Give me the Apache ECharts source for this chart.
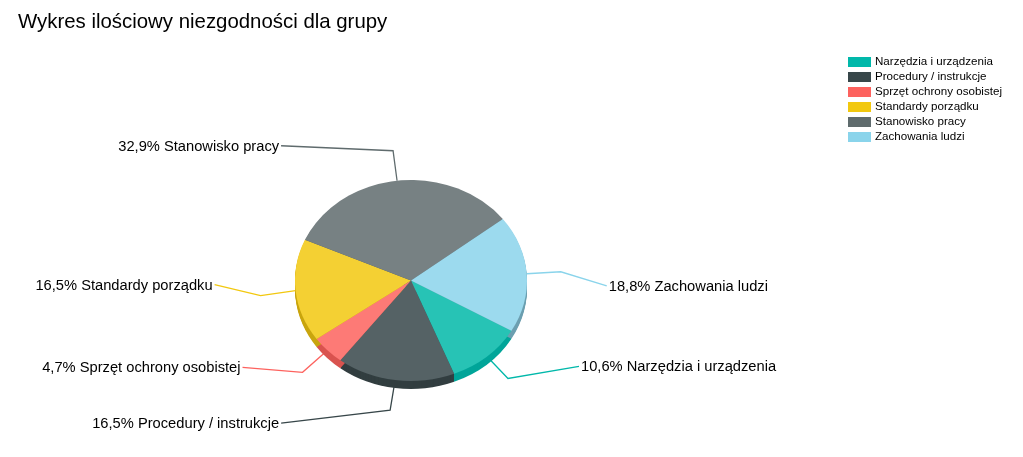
<!DOCTYPE html>
<html><head><meta charset="utf-8">
<style>html,body{margin:0;padding:0;background:#fff}#c{width:1023px;height:457px}</style>
<script src="https://cdn.jsdelivr.net/npm/echarts@6/dist/echarts.min.js"></script>
</head><body><div id="c"></div>
<script>
const categories = ['Narzędzia i urządzenia','Procedury / instrukcje','Sprzęt ochrony osobistej','Standardy porządku','Stanowisko pracy','Zachowania ludzi'];
const shares = [10.6,16.5,4.7,16.5,32.9,18.8];

const baseColors = ['#01B8AA','#374649','#FD625E','#F2C80F','#5F6B6D','#8AD4EB'];
const topColors  = ['#27C3B5','#556265','#FD7A76','#F4D033','#778183','#9CDAEE'];
const sideColors = ['#00A599','#323E40','#D9534F','#C9A50E','#4F595B','#6C9FB0'];
// leader line: offsets from the slice's edge point to the elbow and to the line end
const elbowOffsets = [[21,22],[-5,30],[-25,22],[-35,5],[-4,-30],[34,-2]];
const endOffsets   = [[92,10],[-114,43],[-85,17],[-81,-6],[-116,-35],[80,12]];

const CX = 411, CY = 280.5, RX = 116, RY = 100.5, DEPTH = 8;
const START = 30 * Math.PI / 180;
const total = shares.reduce((a,b)=>a+b,0);
const fmt = v => v.toFixed(1).replace('.',',') + '%';

function render(i){
  return function(params, api){
    const v = api.value(0);
    let before = 0;
    for (let k=0;k<i;k++) before += shares[k];
    const a0 = START + before/total*2*Math.PI;
    const a1 = a0 + v/total*2*Math.PI;
    const mid = (a0+a1)/2;
    const children = [];
    const sector = (dy,fill,z2)=>({type:'sector',x:CX,y:CY+dy,scaleX:1,scaleY:RY/RX,z2,silent:true,
      shape:{cx:0,cy:0,r:RX,r0:0,startAngle:a0,endAngle:a1,clockwise:true},
      style:{fill,stroke:null}});
    for (let d=DEPTH;d>=1;d--) children.push(sector(d,sideColors[i],1));
    children.push(sector(0,topColors[i],5));
    const ex = CX+RX*Math.cos(mid), ey = CY+RY*Math.sin(mid);
    const pe = [ex+elbowOffsets[i][0], ey+elbowOffsets[i][1]];
    const pl = [ex+endOffsets[i][0], ey+endOffsets[i][1]];
    children.push({type:'polyline',z2:0,silent:true,
      shape:{points:[[ex,ey],pe,pl]},
      style:{fill:null,stroke:baseColors[i],lineWidth:1.3}});
    const left = pl[0] > CX;
    children.push({type:'text',z2:6,silent:true,x:pl[0]+(left?2:-2),y:pl[1]+0.8,
      style:{text:fmt(v)+' '+categories[i],fill:'#000',
        font:'14.7px "Liberation Sans", Arial, sans-serif',
        align:left?'left':'right',verticalAlign:'middle'}});
    return {type:'group',children};
  };
}

const option = {
  animation:false,
  backgroundColor:'#fff',
  title:{text:'Wykres ilościowy niezgodności dla grupy',left:13,top:7,
    textStyle:{fontFamily:'"Liberation Sans", Arial, sans-serif',fontSize:20.4,fontWeight:'normal',color:'#000'}},
  legend:{orient:'vertical',left:843,top:51,itemWidth:23,itemHeight:10,itemGap:3,
    icon:'rect',selectedMode:false,data:categories,
    textStyle:{fontFamily:'"Liberation Sans", Arial, sans-serif',fontSize:11.6,color:'#000',padding:[0,0,0,-1],lineHeight:12}},
  series:categories.map((name,i)=>({
    type:'custom',name,coordinateSystem:'none',silent:true,
    itemStyle:{color:baseColors[i]},
    data:[[shares[i]]],
    renderItem:render(i)
  }))
};
echarts.init(document.getElementById('c'),null,{renderer:'canvas'}).setOption(option);
</script></body></html>
